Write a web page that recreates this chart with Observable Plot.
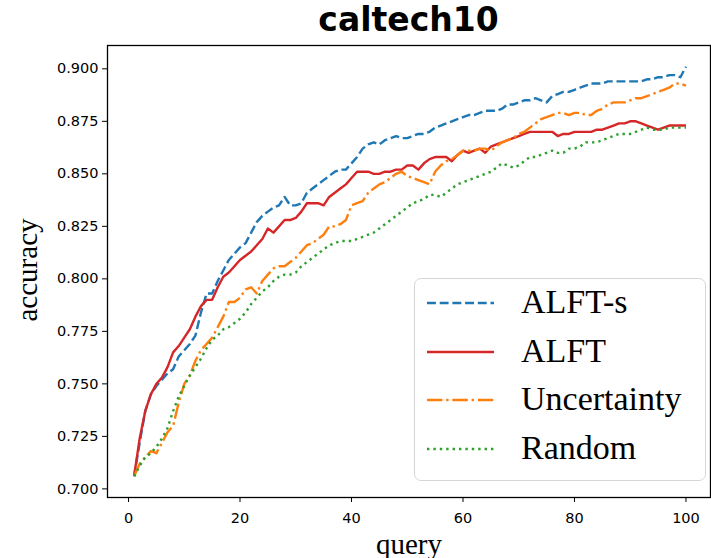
<!DOCTYPE html>
<html><head><meta charset="utf-8">
<script src="https://cdn.jsdelivr.net/npm/d3@7"></script>
<script src="https://cdn.jsdelivr.net/npm/@observablehq/plot@0.6"></script>
<style>
body{margin:0;background:#fff;}
#wrap{position:relative;width:711px;height:558px;overflow:hidden;background:#fff;}
#title{position:absolute;left:107px;width:603px;top:0;height:44px;line-height:44px;text-align:center;font:bold 33px "DejaVu Sans";color:#000;}
#chart{position:absolute;top:44px;left:0;}
#ylab{position:absolute;left:27px;top:270px;transform:translate(-50%,-50%) rotate(-90deg);font:29px "Liberation Serif";color:#000;white-space:nowrap;}
#legend{position:absolute;left:414px;top:278px;width:292px;height:203px;border:1.5px solid #d6d6d6;border-radius:7px;background:rgba(255,255,255,0.85);box-sizing:border-box;}
.row{position:absolute;left:0;height:40px;}
.row svg{position:absolute;left:12px;top:0;}
.row span{position:absolute;left:106px;top:0;line-height:40px;font:34px "Liberation Serif";color:#000;white-space:nowrap;}
</style></head>
<body>
<div id="wrap">
<div id="title">caltech10</div>
<div id="chart"></div>
<div id="ylab">accuracy</div>
<div id="legend"></div>
</div>
<script>
const queries = d3.range(1, 101);
const xTicks = [0, 20, 40, 60, 80, 100];
const yTicks = [0.700, 0.725, 0.750, 0.775, 0.800, 0.825, 0.850, 0.875, 0.900];
const seriesNames = ["ALFT-s", "ALFT", "Uncertainty", "Random"];

const alftS = [
0.706,0.722,0.737,0.745,0.749,0.752,0.755,0.757,0.763,0.766,
0.769,0.773,0.784,0.793,0.793,0.799,0.804,0.809,0.812,0.815,
0.817,0.822,0.827,0.830,0.832,0.834,0.835,0.839,0.835,0.835,
0.836,0.841,0.843,0.845,0.847,0.849,0.851,0.852,0.852,0.855,
0.858,0.862,0.864,0.865,0.864,0.866,0.867,0.868,0.867,0.867,
0.868,0.869,0.869,0.870,0.872,0.873,0.874,0.875,0.876,0.877,
0.878,0.878,0.879,0.880,0.880,0.880,0.881,0.883,0.883,0.884,
0.885,0.885,0.886,0.885,0.884,0.887,0.888,0.889,0.889,0.890,
0.891,0.892,0.893,0.893,0.893,0.894,0.894,0.894,0.894,0.894,
0.894,0.894,0.895,0.895,0.896,0.896,0.897,0.897,0.896,0.901];

const alft = [
0.706,0.724,0.737,0.745,0.750,0.753,0.758,0.765,0.768,0.772,
0.776,0.782,0.787,0.790,0.790,0.796,0.801,0.803,0.806,0.809,
0.811,0.813,0.816,0.819,0.824,0.822,0.825,0.828,0.828,0.829,
0.832,0.836,0.836,0.836,0.835,0.839,0.841,0.843,0.845,0.848,
0.851,0.851,0.851,0.850,0.850,0.851,0.851,0.852,0.852,0.854,
0.854,0.852,0.855,0.857,0.858,0.858,0.858,0.856,0.859,0.861,
0.860,0.861,0.862,0.860,0.863,0.864,0.865,0.866,0.867,0.868,
0.869,0.870,0.870,0.870,0.870,0.870,0.868,0.869,0.869,0.870,
0.870,0.870,0.870,0.871,0.871,0.872,0.873,0.874,0.874,0.875,
0.875,0.874,0.873,0.872,0.871,0.872,0.873,0.873,0.873,0.873];

const uncertainty = [
0.706,0.712,0.715,0.718,0.717,0.722,0.727,0.730,0.741,0.750,
0.754,0.761,0.766,0.769,0.772,0.777,0.782,0.789,0.789,0.791,
0.795,0.796,0.793,0.799,0.802,0.805,0.806,0.806,0.808,0.810,
0.813,0.816,0.817,0.819,0.821,0.825,0.825,0.826,0.828,0.835,
0.836,0.837,0.841,0.843,0.845,0.846,0.848,0.850,0.851,0.849,
0.848,0.847,0.846,0.845,0.851,0.854,0.856,0.857,0.859,0.861,
0.861,0.861,0.862,0.862,0.861,0.863,0.865,0.866,0.867,0.869,
0.870,0.872,0.874,0.876,0.877,0.878,0.879,0.879,0.878,0.879,
0.879,0.878,0.878,0.880,0.881,0.883,0.884,0.884,0.884,0.885,
0.886,0.886,0.887,0.888,0.889,0.890,0.891,0.893,0.893,0.892];

const random = [
0.706,0.711,0.715,0.717,0.720,0.724,0.729,0.737,0.744,0.749,
0.754,0.758,0.762,0.767,0.771,0.773,0.776,0.777,0.779,0.781,
0.784,0.788,0.791,0.794,0.796,0.799,0.801,0.802,0.802,0.803,
0.806,0.808,0.810,0.812,0.814,0.816,0.817,0.818,0.818,0.818,
0.819,0.820,0.821,0.822,0.824,0.826,0.828,0.830,0.832,0.834,
0.836,0.837,0.838,0.840,0.840,0.839,0.841,0.843,0.845,0.846,
0.847,0.848,0.849,0.850,0.851,0.853,0.855,0.854,0.853,0.854,
0.856,0.858,0.858,0.859,0.860,0.861,0.860,0.860,0.862,0.862,
0.863,0.865,0.865,0.865,0.866,0.867,0.868,0.869,0.869,0.869,
0.870,0.871,0.872,0.871,0.871,0.871,0.872,0.872,0.872,0.872];

const seriesValues = [alftS, alft, uncertainty, random];
const colors = ["#1f77b4", "#d62728", "#ff7f0e", "#2ca02c"];
const dashes = ["8.9,3.8", null, "15.4,3.8,2.4,3.8", "2.4,4"];
const lw = 2.4;

const rows = [];
seriesNames.forEach((name, s) => {
  seriesValues[s].forEach((v, i) => rows.push({query: queries[i], accuracy: v, name}));
});

const lineMarks = seriesNames.map((name, s) => Plot.line(rows.filter(r => r.name === name), {
  x: "query", y: "accuracy", stroke: colors[s], strokeWidth: lw,
  strokeDasharray: dashes[s] || undefined, strokeLinecap: "butt", strokeLinejoin: "round"
}));

const chart = Plot.plot({
  width: 711, height: 514,
  marginTop: 1, marginLeft: 107, marginRight: 1, marginBottom: 61,
  style: {fontFamily: "DejaVu Sans", fontSize: "14.5px", color: "#000", background: "#fff", overflow: "visible"},
  x: {domain: [-3.77, 104.4]},
  y: {domain: [0.6959, 0.9111]},
  marks: [
    Plot.axisX({ticks: xTicks, tickSize: 5, tickPadding: 10, label: null, tickFormat: d => String(d), fontSize: 14.5}),
    Plot.axisY({ticks: yTicks, tickSize: 5, tickPadding: 4, label: null, tickFormat: d3.format(".3f"), fontSize: 14.5}),
    ...lineMarks,
    Plot.frame({stroke: "#000", strokeWidth: 1.3}),
    Plot.text(["query"], {text: d => d, frameAnchor: "bottom", dy: 56, fontFamily: "Liberation Serif", fontSize: 29})
  ]
});
document.getElementById("chart").appendChild(chart);

// legend
const legend = document.getElementById("legend");
const rowTops = [4, 53, 101, 150];
seriesNames.forEach((name, s) => {
  const row = document.createElement("div");
  row.className = "row";
  row.style.top = rowTops[s] + "px";
  row.style.width = "285px";
  const ns = "http://www.w3.org/2000/svg";
  const svg = document.createElementNS(ns, "svg");
  svg.setAttribute("width", "70"); svg.setAttribute("height", "40");
  const ln = document.createElementNS(ns, "line");
  ln.setAttribute("x1", "0"); ln.setAttribute("x2", "67");
  ln.setAttribute("y1", "20"); ln.setAttribute("y2", "20");
  ln.setAttribute("stroke", colors[s]); ln.setAttribute("stroke-width", lw);
  if (dashes[s]) ln.setAttribute("stroke-dasharray", dashes[s]);
  svg.appendChild(ln);
  row.appendChild(svg);
  const sp = document.createElement("span");
  sp.textContent = name;
  row.appendChild(sp);
  legend.appendChild(row);
});
</script>
</body></html>
